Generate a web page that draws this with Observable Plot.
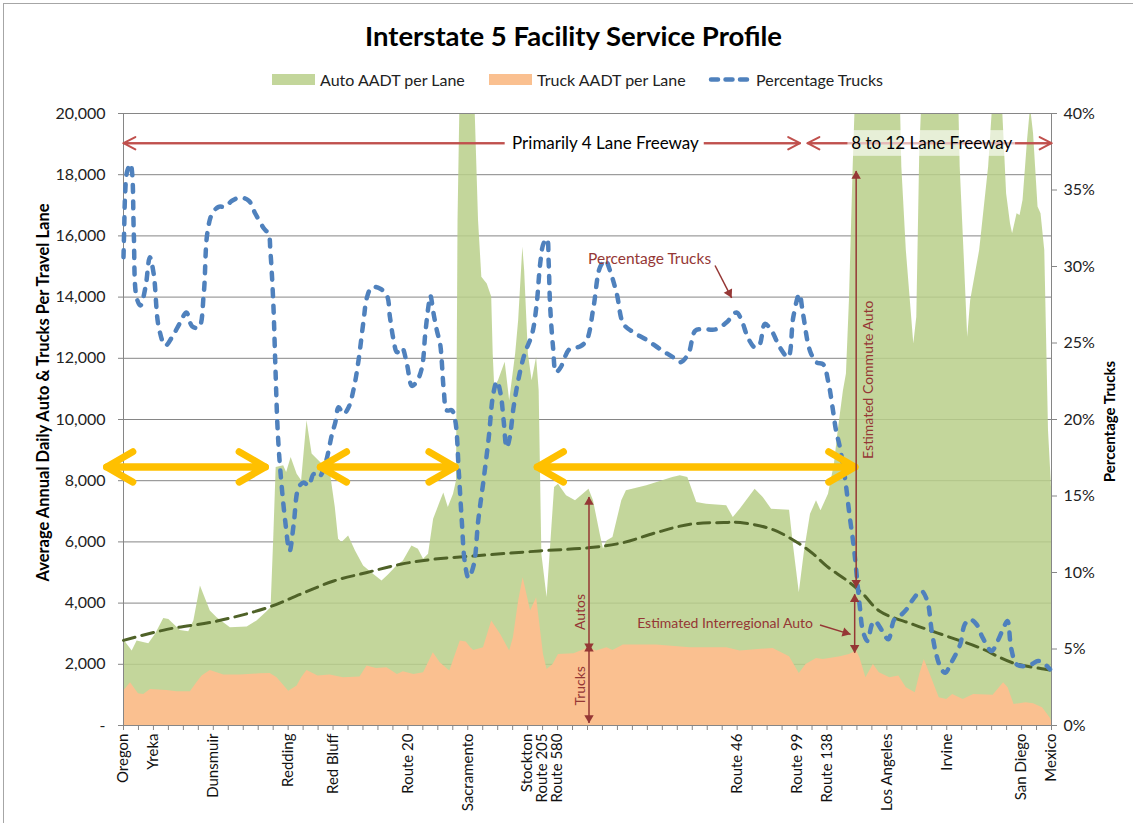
<!DOCTYPE html>
<html><head><meta charset="utf-8">
<script src="https://cdn.jsdelivr.net/npm/d3@7"></script>
<script src="https://cdn.jsdelivr.net/npm/@observablehq/plot@0.6"></script>
<style>
body{margin:0;background:#fff;font-family:Lato,"Liberation Sans",sans-serif;}
#wrap{position:relative;width:1133px;height:823px;overflow:hidden;background:#fff}
#border{position:absolute;left:3px;top:3px;width:1150px;height:840px;border:1px solid #a6a6a6;box-sizing:border-box}
#title{position:absolute;top:19px;left:7px;width:1133px;text-align:center;font-weight:bold;font-size:27.5px;color:#000;line-height:34px}
.leg{position:absolute;top:70px;height:18px;display:flex;align-items:center;font-size:16px;color:#222;white-space:nowrap}
.sw{width:43px;height:11px;margin-right:5px}
#chart{position:absolute;left:0;top:95px}
</style></head>
<body><div id="wrap">
<div id="border"></div>
<div id="title">Interstate 5 Facility Service Profile</div>
<div class="leg" style="left:272px"><div class="sw" style="background:#C3D69B"></div>Auto AADT per Lane</div>
<div class="leg" style="left:489px"><div class="sw" style="background:#FAC090"></div>Truck AADT per Lane</div>
<div class="leg" style="left:708px"><svg width="43" height="11" style="margin-right:5px"><line x1="3" x2="41" y1="5.5" y2="5.5" stroke="#4F81BD" stroke-width="4.5" stroke-linecap="round" stroke-dasharray="7,7.5"/></svg>Percentage Trucks</div>
<div id="chart"></div>
</div>
<script>
// Location ticks along I-5 (index positions on category axis) and their names
const locationTicks = [0, 2, 6, 11, 14, 19, 23, 27, 28, 29, 41, 45, 47, 51, 55, 60, 62];
const locationNames = ["Oregon","Yreka","Dunsmuir","Redding","Red Bluff","Route 20","Sacramento","Stockton","Route 205","Route 580","Route 46","Route 99","Route 138","Los Angeles","Irvine","San Diego","Mexico"];
const axisCount = 62;

// Auto AADT per lane, stacked on trucks (top of green band) [position, value]
const autoStacked = [[0,2814],[0.58,2432],[0.91,2760],[1.69,2672],[2.14,2978],[2.69,3500],[3.03,3468],[3.8,3108],[4.36,3065],[4.7,3414],[5.14,4560],[5.8,3741],[6.25,3523],[7.14,3196],[8.26,3218],[8.92,3414],[9.59,3720],[9.86,3850],[10.04,6140],[10.2,8430],[10.7,8487],[10.9,8270],[11.2,8760],[11.6,8214],[11.9,8000],[12.26,9960],[12.6,8870],[13.15,8600],[13.8,8324],[14.15,7124],[14.37,6087],[14.6,5978],[15.04,6196],[15.5,5705],[16.04,5214],[16.7,4941],[17.27,4723],[17.7,4920],[18.27,5214],[18.7,5378],[19.27,5869],[19.7,5760],[20.05,5433],[20.38,5596],[20.72,6741],[21.16,7300],[21.4,7600],[21.7,7124],[22.05,7560],[22.25,8000],[22.35,16500],[22.5,21000],[23.0,23000],[23.5,20000],[23.72,16500],[23.94,14650],[24.3,14430],[24.6,14000],[24.7,12140],[24.8,11050],[25.05,11270],[25.5,11870],[25.8,10615],[26.2,12140],[26.4,13230],[26.68,15630],[26.8,14870],[27.05,12140],[27.3,11270],[27.6,12030],[27.77,10940],[27.95,5600],[28.3,4180],[28.5,5600],[28.8,7780],[29.06,7887],[29.6,7505],[30.2,7342],[31.1,7723],[31.4,7342],[31.85,6250],[32.07,5760],[32.3,6032],[32.7,6141],[33.29,7342],[33.6,7669],[34.96,7833],[36.7,8105],[37.2,8160],[37.7,8105],[38.3,7287],[38.96,7233],[40.3,7178],[40.74,6796],[41.2,7069],[42.2,7723],[42.74,7451],[43.3,7069],[44.5,7036],[44.75,5923],[45.15,4341],[45.5,5705],[45.9,6905],[46.3,7342],[46.6,7015],[47.1,7560],[47.5,8542],[47.75,9633],[48.1,10942],[48.3,11488],[48.5,13888],[48.75,18252],[48.9,20500],[49.5,22000],[51.5,22000],[51.9,20500],[52.0,18252],[52.3,15525],[52.8,12470],[53.0,13343],[53.2,18800],[53.35,20500],[54.5,22000],[55.8,20500],[55.9,18252],[56.2,14979],[56.4,12688],[56.6,13888],[57.2,15525],[57.8,18252],[58.1,20500],[58.4,21500],[58.7,20500],[59.0,17379],[59.26,16397],[59.4,16070],[59.7,16725],[59.9,16670],[60.1,17161],[60.4,19125],[60.6,20200],[60.8,19343],[61.1,16943],[61.3,16725],[61.55,15525],[61.8,9633],[62,7800]];

// Truck AADT per lane [position, value]
const truckAADT = [[0,1123],[0.2,1232],[0.47,1396],[1.0,1036],[1.35,1014],[1.8,1178],[2.9,1145],[3.58,1101],[4.47,1101],[4.9,1396],[5.25,1614],[5.8,1799],[6.7,1647],[7.8,1647],[9.1,1690],[9.8,1701],[10.26,1559],[11.04,1123],[11.6,1287],[11.9,1559],[12.26,1799],[13.0,1614],[13.8,1647],[14.7,1559],[15.8,1581],[16.27,1941],[16.9,1865],[17.6,1887],[18.3,1668],[18.7,1756],[19.4,1668],[20.05,1723],[20.7,2377],[21.16,2050],[21.8,1777],[22.5,2759],[22.9,2730],[23.2,2541],[23.4,2454],[24.05,2541],[24.6,3414],[25.2,2977],[25.8,2432],[26.05,2868],[26.4,4069],[26.7,4832],[27.2,3741],[27.6,4178],[28.06,2323],[28.3,1832],[28.7,1996],[29.06,2323],[30.1,2345],[31.1,2541],[31.6,2432],[32.3,2541],[32.7,2454],[33.4,2628],[35.6,2628],[37.85,2541],[40.3,2541],[41.2,2432],[43.4,2519],[44.5,2250],[45.15,1700],[45.6,1996],[46.3,2192],[46.75,2159],[47.9,2250],[48.5,2323],[48.98,2432],[49.2,2214],[49.6,1559],[50.1,1996],[50.5,1723],[51.2,1559],[51.8,1614],[52.3,1232],[52.9,1069],[53.2,1668],[53.5,2159],[53.9,1668],[54.5,905],[55.0,850],[55.4,1014],[56.1,850],[56.8,1014],[58.1,992],[58.8,1396],[59.1,1232],[59.5,687],[60.3,741],[60.8,709],[61.4,578],[61.9,250],[62,150]];

// Percentage trucks (%) [position, percent]
const pctTrucks = [[0,30.6],[0.05,32.6],[0.1,34.5],[0.24,36.2],[0.47,36.7],[0.58,36.07],[0.69,32.1],[0.87,28.0],[1.13,27.45],[1.47,28.65],[1.76,30.6],[2.02,29.5],[2.36,26.0],[2.8,24.83],[3.25,25.4],[3.8,26.36],[4.2,27.0],[4.58,26.1],[5.03,26.0],[5.36,28.2],[5.59,32.1],[5.92,33.45],[6.36,33.9],[6.8,33.9],[7.25,34.3],[7.8,34.5],[8.37,34.3],[8.81,33.45],[9.37,32.5],[9.7,32.1],[9.81,31.05],[10.0,27.8],[10.15,23.4],[10.3,19.3],[10.48,16.65],[10.8,13.4],[11.1,11.4],[11.37,13.15],[11.7,15.56],[12.04,15.88],[12.37,15.67],[12.7,16.43],[13.04,16.21],[13.33,16.65],[13.6,17.52],[13.93,19.05],[14.15,19.8],[14.37,20.8],[14.7,20.36],[15.04,20.8],[15.4,22.1],[15.7,23.85],[16.04,26.47],[16.27,28.0],[16.6,28.65],[17.16,28.54],[17.6,28.1],[17.8,26.7],[18.05,25.16],[18.27,24.4],[18.6,24.7],[18.94,23.6],[19.27,22.2],[19.6,22.5],[19.94,23.4],[20.16,25.6],[20.38,27.45],[20.5,28.1],[20.72,26.9],[20.94,25.8],[21.16,24.9],[21.4,21.9],[21.6,20.6],[21.94,20.6],[22.17,19.9],[22.4,16.6],[22.6,13.4],[22.8,10.7],[23.05,9.65],[23.4,10.5],[23.7,13.4],[24.05,16.0],[24.4,18.8],[24.7,21.65],[24.95,22.5],[25.2,21.65],[25.4,19.9],[25.6,18.16],[25.8,18.8],[26.06,20.8],[26.4,22.7],[26.8,24.3],[27.3,25.6],[27.6,27.5],[27.84,30.2],[28.06,31.5],[28.3,31.8],[28.4,30.4],[28.5,27.5],[28.7,24.7],[28.9,23.1],[29.2,23.4],[29.8,24.6],[30.5,24.77],[30.95,25.2],[31.4,27.34],[31.84,29.96],[32.2,30.4],[32.5,29.74],[32.96,28.2],[33.4,26.25],[34.06,25.7],[34.96,25.2],[35.85,24.6],[36.7,24.07],[37.2,23.74],[37.74,24.3],[38.2,25.8],[38.74,25.9],[39.6,25.9],[40.3,26.36],[40.96,27.0],[41.3,26.47],[41.74,25.3],[42.2,24.7],[42.5,24.9],[42.85,26.25],[43.3,25.8],[43.86,24.7],[44.4,24.07],[44.75,26.7],[45.15,28.2],[45.4,26.9],[45.86,24.5],[46.3,23.74],[46.75,23.6],[47.08,22.5],[47.4,20.6],[47.6,19.3],[47.86,18.2],[48.2,16.2],[48.5,13.8],[48.8,11.6],[49.0,9.67],[49.2,7.7],[49.4,6.17],[49.7,5.52],[50.0,6.6],[50.2,6.83],[50.7,6.17],[51.1,5.63],[51.5,6.94],[52.0,7.27],[52.4,7.7],[52.75,8.25],[53.3,8.8],[53.7,8.14],[54.0,6.17],[54.3,4.65],[54.65,3.67],[54.9,3.45],[55.3,4.1],[55.9,5.3],[56.2,6.6],[56.55,6.94],[57.0,6.6],[57.4,5.74],[58.0,4.87],[58.4,5.52],[58.8,6.39],[59.06,6.83],[59.3,5.08],[59.66,4.0],[60.1,3.88],[60.66,4.0],[61.1,4.21],[61.44,4.1],[61.9,3.67]];

// Estimated interregional auto trend [position, value]
const interregionalTrend = [[0,2781],[2.9,3141],[6.25,3414],[9.6,3850],[11.8,4287],[14.04,4723],[16.27,5000],[18.5,5269],[20.7,5433],[23.4,5541],[27.8,5705],[31.2,5814],[33.4,5978],[35.6,6305],[37.85,6578],[40.1,6632],[41.2,6632],[43.4,6400],[45.2,5923],[46.1,5600],[47.0,5200],[48.3,4750],[49.4,4300],[50.5,3741],[52.75,3305],[54.98,2923],[57.2,2541],[59.4,2050],[61.66,1832],[62,1800]];

const yTicksLeft = d3.range(0, 20001, 2000);
const pctTicks = [0, 5, 10, 15, 20, 25, 30, 35, 40];
const pctToY = 500; // 40% on right axis = 20,000 on left axis

const auto = autoStacked.map(([x, y]) => ({x, y}));
const truck = truckAADT.map(([x, y]) => ({x, y}));
const pct = pctTrucks.map(([x, p]) => ({x, p}));
const trend = interregionalTrend.map(([x, y]) => ({x, y}));

// Annotation geometry (category position, left-axis value)
const laneArrowY = 19030;
const laneSpans = [{a: 0, b: 45.2}, {a: 45.7, b: 62}];
const laneLabels = [
  {x: 32.2, text: "Primarily 4 Lane Freeway", x1: 25.5, x2: 38.8, bg: 1},
  {x: 54.0, text: "8 to 12 Lane Freeway", x1: 48.4, x2: 59.6, bg: 0.6}
];
const corridorY = 8450;
const corridors = [{a: -1.13, b: 9.48}, {a: 13.15, b: 22.16}, {a: 27.64, b: 48.87}];
const vLinks = [
  {x: 31.1, y1: 7470, y2: 2430}, {x: 31.1, y1: 2670, y2: 85},
  {x: 48.95, y1: 18120, y2: 4505}, {x: 48.85, y1: 4288, y2: 2377}
];
const upTips = [{x: 31.1, y: 7470}, {x: 31.1, y: 2670}, {x: 48.95, y: 18120}, {x: 48.85, y: 4288}];
const downTips = [{x: 31.1, y: 2430}, {x: 31.1, y: 85}, {x: 48.95, y: 4505}, {x: 48.85, y: 2377}];
const pointerA = {x1: 39.52, y1: 15033, x2: 40.63, y2: 13976};
const pointerB = {x1: 46.53, y1: 3283, x2: 48.58, y2: 2978};

const dark = "#953735";
const fmt = d3.format(",");

const chart = Plot.plot({
  width: 1133, height: 728,
  marginLeft: 123, marginRight: 82, marginTop: 18, marginBottom: 98,
  x: {domain: [0, axisCount], label: null},
  y: {domain: [0, 20000], label: null},
  style: {fontFamily: "Lato, sans-serif", fontSize: "14px", color: "#222", background: "transparent", overflow: "visible"},
  marks: [
    Plot.gridY(yTicksLeft, {stroke: "#868686", strokeOpacity: 1}),
    Plot.areaY(auto, {x: "x", y: "y", fill: "#B8CF89", fillOpacity: 0.85, clip: true}),
    Plot.areaY(truck, {x: "x", y: "y", fill: "#FAC090"}),
    Plot.frame({stroke: "#868686"}),
    Plot.axisY(yTicksLeft, {anchor: "left", tickSize: 5, tickPadding: 13, stroke: "#868686", fill: "#222", fontSize: 16, label: null,
      tickFormat: d => d === 0 ? "-" : fmt(d)}),
    Plot.axisY(pctTicks.map(p => p * pctToY), {anchor: "right", tickSize: 5, tickPadding: 7, stroke: "#868686", fill: "#222", fontSize: 16, label: null,
      tickFormat: d => (d / pctToY) + "%"}),
    Plot.axisX(d3.range(0, axisCount + 1), {anchor: "bottom", tickSize: 5, stroke: "#868686", tickFormat: () => "", label: null}),
    Plot.axisX(locationTicks, {anchor: "bottom", tickSize: 0, tickPadding: 8, tickRotate: -90, fill: "#111", fontSize: 15, label: null,
      tickFormat: d => locationNames[locationTicks.indexOf(d)]}),
    Plot.line(trend, {x: "x", y: "y", stroke: "#4F6228", strokeWidth: 3, strokeDasharray: "12,7", curve: "catmull-rom"}),
    Plot.line(pct, {x: "x", y: d => d.p * pctToY, stroke: "#4F81BD", strokeWidth: 4.5, strokeDasharray: "7,9.5", strokeLinecap: "round", curve: "catmull-rom"}),
    // lane configuration arrows
    Plot.arrow(laneSpans.flatMap(s => [{a: s.a, b: s.b}, {a: s.b, b: s.a}]), {x1: "a", x2: "b", y1: laneArrowY, y2: laneArrowY,
      stroke: "#C0504D", strokeWidth: 2, headLength: 10, headAngle: 55}),
    Plot.rect(laneLabels, {x1: "x1", x2: "x2", y1: 18600, y2: 19440, fill: "white", fillOpacity: "bg"}),
    Plot.text(laneLabels, {x: "x", y: laneArrowY, text: "text", fontSize: 17, fill: "#000"}),
    // corridor arrows
    Plot.arrow(corridors.flatMap(s => [{a: s.a, b: s.b}, {a: s.b, b: s.a}]), {x1: "a", x2: "b", y1: corridorY, y2: corridorY,
      stroke: "#FFC000", strokeWidth: 7, headLength: 6.5, headAngle: 60, strokeLinecap: "round", strokeLinejoin: "round"}),
    // dark red measurement arrows
    Plot.link(vLinks, {x1: "x", x2: "x", y1: "y1", y2: "y2", stroke: dark, strokeWidth: 1.5}),
    Plot.dot(upTips, {x: "x", y: "y", symbol: "triangle", r: 3.5, fill: dark, stroke: null, dy: 5}),
    Plot.dot(downTips, {x: "x", y: "y", symbol: "triangle", r: 3.5, fill: dark, stroke: null, rotate: 180, dy: -5}),
    Plot.link([pointerA, pointerB], {x1: "x1", y1: "y1", x2: "x2", y2: "y2", stroke: dark, strokeWidth: 1.5}),
    Plot.dot([pointerA], {x: "x2", y: "y2", symbol: "triangle", r: 3.5, fill: dark, stroke: null, rotate: 152.7, dx: -2.5, dy: -4.8}),
    Plot.dot([pointerB], {x: "x2", y: "y2", symbol: "triangle", r: 3.5, fill: dark, stroke: null, rotate: 106.9, dx: -5.2, dy: -1.6}),
    Plot.text(["Percentage Trucks"], {x: 35.15, y: 15252, text: d => d, fontSize: 15.5, fill: dark}),
    Plot.text(["Estimated Interregional Auto"], {x: 40.19, y: 3326, text: d => d, fontSize: 14, fill: dark}),
    Plot.text(["Autos"], {x: 30.5, y: 3710, text: d => d, fontSize: 14, fill: dark, rotate: -90}),
    Plot.text(["Trucks"], {x: 30.5, y: 1296, text: d => d, fontSize: 14, fill: dark, rotate: -90}),
    Plot.text(["Estimated Commute Auto"], {x: 49.76, y: 11300, text: d => d, fontSize: 14, fill: dark, rotate: -90}),
    // axis titles
    Plot.text(["Average Annual Daily Auto & Trucks Per Travel Lane"], {frameAnchor: "left", textAnchor: "middle", dx: -80, dy: -27, rotate: -90, text: d => d, fontSize: 16.5, fontWeight: "bold", fill: "#000"}),
    Plot.text(["Percentage Trucks"], {frameAnchor: "right", textAnchor: "middle", dx: 59, dy: 2, rotate: -90, text: d => d, fontSize: 15, fontWeight: "bold", fill: "#000"})
  ]
});
document.getElementById("chart").appendChild(chart);
</script>
</body></html>
